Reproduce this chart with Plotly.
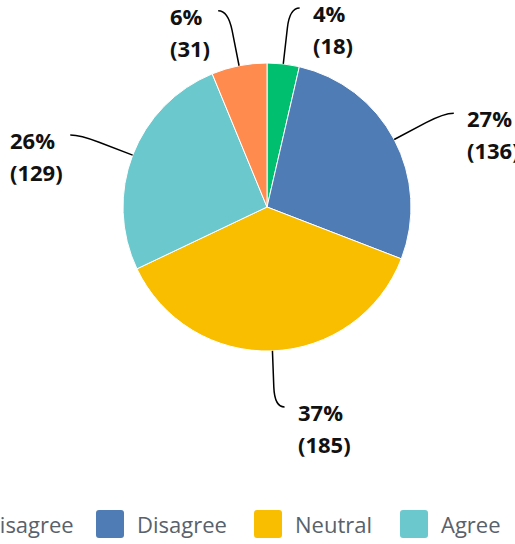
import math
import plotly.graph_objects as go

# ---- data ----
categories = ["Strongly Disagree", "Disagree", "Neutral", "Agree", "Strongly Agree"]
counts = [18, 136, 185, 129, 31]
colors = ["#00BF6F", "#507CB6", "#F9BE00", "#6BC8CD", "#FF8B4F"]

# ---- layout constants (page pixels) ----
W, H = 515, 544
CX, CY, R = 267, 207, 144
LABEL_FONT = "Open Sans"
LABEL_SIZE = 22
LEGEND_SIZE = 22
LEGEND_COLOR = "#59616b"
LEGEND_SWATCH_X = [-147, 96, 254, 400, 528]
LEGEND_Y = 524
SW = 28


def px(x):
    return x / W


def py(y):
    return 1 - y / H


def est_width(s, size):
    w = 0
    for ch in s:
        if ch.isdigit():
            w += 0.572
        elif ch in "()":
            w += 0.33
        elif ch == "%":
            w += 0.86
        else:
            w += 0.55
    return w * size


total = sum(counts)
pcts = [round(100 * c / total) for c in counts]

fig = go.Figure(
    go.Pie(
        labels=categories,
        values=counts,
        sort=False,
        direction="clockwise",
        rotation=0,
        marker=dict(colors=colors, line=dict(color="white", width=1)),
        textinfo="none",
        hoverinfo="label+value+percent",
        domain=dict(x=[px(CX - R), px(CX + R)], y=[py(CY + R), py(CY - R)]),
        showlegend=False,
    )
)

shapes = []
annotations = []
cum = 0
for c, p in zip(counts, pcts):
    mid = (cum + c / 2) / total * 2 * math.pi
    cum += c
    s, co = math.sin(mid), math.cos(mid)
    side = 1 if s >= 0 else -1
    p0 = (CX + R * s, CY - R * co)
    p1 = (CX + 1.25 * R * s, CY - 1.25 * R * co)
    cc = (CX + 1.39 * R * s, CY - 1.39 * R * co)
    e = (cc[0] + 10 * side, cc[1])
    path = (f"M{px(p0[0])},{py(p0[1])} L{px(p1[0])},{py(p1[1])} "
            f"Q{px(cc[0])},{py(cc[1])} {px(e[0])},{py(e[1])}")
    shapes.append(dict(type="path", xref="paper", yref="paper", path=path,
                       line=dict(color="#000000", width=1.5)))
    l1, l2 = f"{p}%", f"({c})"
    if side > 0:
        xl = e[0] + 11
    else:
        xl = e[0] - 10 - max(est_width(l1, LABEL_SIZE), est_width(l2, LABEL_SIZE))
    for i, t in enumerate([l1, l2]):
        annotations.append(dict(
            text=f"<b>{t}</b>", xref="paper", yref="paper",
            x=px(xl), y=py(e[1] + 5 + 32 * i), xanchor="left", yanchor="middle",
            showarrow=False, font=dict(family=LABEL_FONT, size=LABEL_SIZE, color="#111111")))

# legend drawn manually (it overflows the page on both sides like the reference)
rr = 3
for name, col, x0 in zip(categories, colors, LEGEND_SWATCH_X):
    y0, y1 = LEGEND_Y - SW / 2, LEGEND_Y + SW / 2
    x1 = x0 + SW
    pts = [
        f"M{px(x0 + rr)},{py(y0)}", f"L{px(x1 - rr)},{py(y0)}",
        f"Q{px(x1)},{py(y0)} {px(x1)},{py(y0 + rr)}",
        f"L{px(x1)},{py(y1 - rr)}", f"Q{px(x1)},{py(y1)} {px(x1 - rr)},{py(y1)}",
        f"L{px(x0 + rr)},{py(y1)}", f"Q{px(x0)},{py(y1)} {px(x0)},{py(y1 - rr)}",
        f"L{px(x0)},{py(y0 + rr)}", f"Q{px(x0)},{py(y0)} {px(x0 + rr)},{py(y0)} Z",
    ]
    shapes.append(dict(type="path", xref="paper", yref="paper", path=" ".join(pts),
                       fillcolor=col, line=dict(width=0)))
    annotations.append(dict(
        text=name, xref="paper", yref="paper", x=px(x1 + 11), y=py(LEGEND_Y),
        xanchor="left", yanchor="middle", showarrow=False,
        font=dict(family=LABEL_FONT, size=LEGEND_SIZE, color=LEGEND_COLOR)))

fig.update_layout(
    width=W, height=H,
    margin=dict(l=0, r=0, t=0, b=0, autoexpand=False),
    paper_bgcolor="white", plot_bgcolor="white",
    shapes=shapes, annotations=annotations,
)

fig.write_html(
    "out.html",
    config={"displayModeBar": False},
    post_script="document.body.style.margin='0';document.body.style.overflow='hidden';",
)
